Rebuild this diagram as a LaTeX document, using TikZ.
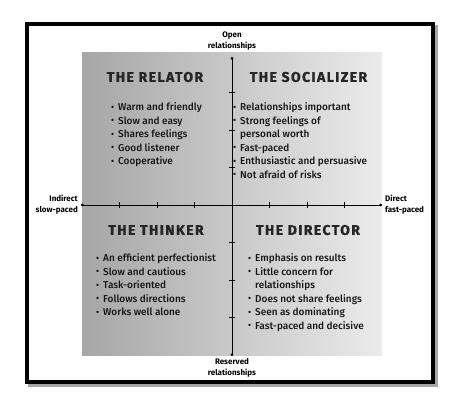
\documentclass[tikz,border=0pt]{standalone}
\usepackage{fontspec}
\setmainfont{Fira Sans Medium}[BoldFont={Fira Sans Bold}]
\newfontfamily\titlefont[LetterSpace=10,FakeBold=1.2]{Fira Sans Bold}
\usetikzlibrary{arrows.meta}
\definecolor{panelL}{HTML}{A6A6A6}
\definecolor{panelR}{HTML}{EBEBEB}
\definecolor{titlegray}{HTML}{262626}
\tikzset{
  qtitle/.style={font=\titlefont\fontsize{14}{16}\selectfont, text=titlegray, inner sep=0pt},
  qlist/.style={font=\fontsize{10}{13.5}\selectfont, align=left, anchor=north west, inner sep=0pt, text=black!92},
  axlabel/.style={font=\bfseries\fontsize{8}{11}\selectfont, inner sep=0pt},
  axis/.style={line width=0.8pt, {Circle[length=2.6pt]}-{Circle[length=2.6pt]}},
  tick/.style={line width=0.6pt}
}
\newcommand{\bl}{\makebox[7pt][l]{\raisebox{0.3pt}{\small\textbullet}}}
\newcommand{\ind}{\hspace*{7pt}}
\begin{document}
\begin{tikzpicture}[x=1pt,y=-1pt]
\useasboundingbox (0,0) rectangle (469,401);
% frame with shadow
\draw[line width=4pt, black!35] (30,27) rectangle (436,385);
\draw[line width=4pt, black] (27,24) rectangle (433,382);
\fill[white] (29,26) rectangle (431,380);
% panel
\shade[left color=panelL, right color=panelR] (82,53) rectangle (382,355);
% axes
\coordinate (top) at (232,57);
\coordinate (bot) at (232,356);
\coordinate (lft) at (81,205);
\coordinate (rgt) at (382,205);
\draw[axis] (top) -- (bot);
\draw[axis] (lft) -- (rgt);
\foreach \d in {-112.5,-75,-37.5,37.5,75,112.5}{
  \draw[tick] (232-3,205+\d) -- (232+3,205+\d);
  \draw[tick] (232+\d,205-3) -- (232+\d,205+3);
}
% axis labels
\node[axlabel, align=center, anchor=south] (open) at (232,50) {Open\\relationships};
\node[axlabel, align=center, anchor=north] (res) at (232,358) {Reserved\\relationships};
\node[axlabel, align=right, anchor=east] (ind) at (78,205) {Indirect\\slow-paced};
\node[axlabel, align=left, anchor=west] (dir) at (385,205) {Direct\\fast-paced};
% titles
\node[qtitle] (t1) at (155,77) {THE RELATOR};
\node[qtitle] (t2) at (308.5,77) {THE SOCIALIZER};
\node[qtitle] (t3) at (156,230) {THE THINKER};
\node[qtitle] (t4) at (308,230) {THE DIRECTOR};
% lists
\node[qlist] (l1) at (111,102.5) {\bl Warm and friendly\\ \bl Slow and easy\\ \bl Shares feelings\\ \bl Good listener\\ \bl Cooperative};
\node[qlist] (l2) at (233,102.5) {\bl Relationships important\\ \bl Strong feelings of\\ \ind personal worth\\ \bl Fast-paced\\ \bl Enthusiastic and persuasive\\ \bl Not afraid of risks};
\node[qlist] (l3) at (96,253.5) {\bl An efficient perfectionist\\ \bl Slow and cautious\\ \bl Task-oriented\\ \bl Follows directions\\ \bl Works well alone};
\node[qlist] (l4) at (248,253.5) {\bl Emphasis on results\\ \bl Little concern for\\ \ind relationships\\ \bl Does not share feelings\\ \bl Seen as dominating\\ \bl Fast-paced and decisive};
\end{tikzpicture}
\end{document}
